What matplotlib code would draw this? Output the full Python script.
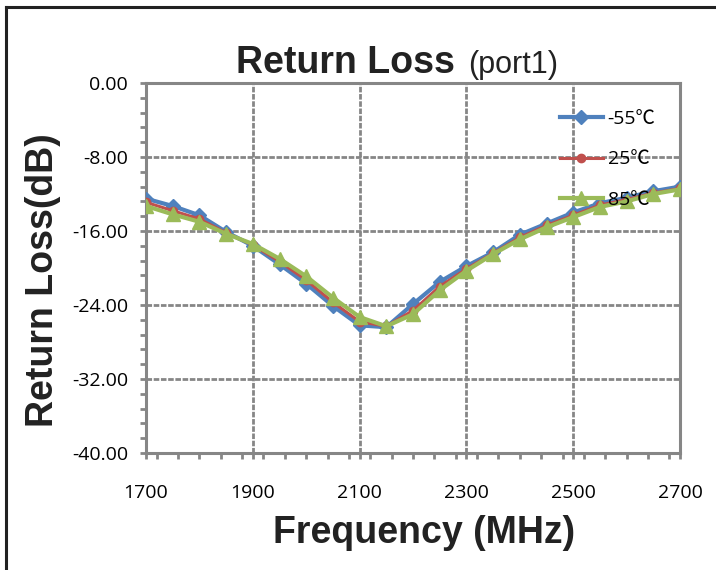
import numpy as np
import matplotlib.pyplot as plt
from matplotlib.ticker import MultipleLocator

# data
freq = [1700, 1750, 1800, 1850, 1900, 1950, 2000, 2050, 2100, 2150, 2200,
        2250, 2300, 2350, 2400, 2450, 2500, 2550, 2600, 2650, 2700]
rl_m55 = [-12.5, -13.3, -14.3, -16.1, -17.6, -19.6, -21.7, -24.1, -26.2, -26.4, -23.9,
          -21.5, -19.8, -18.3, -16.4, -15.2, -14.0, -13.0, -12.4, -11.7, -11.2]
rl_25 = [-12.9, -13.8, -14.7, -16.2, -17.5, -19.3, -21.3, -23.7, -25.8, -26.3, -24.6,
         -22.0, -20.1, -18.4, -16.7, -15.4, -14.3, -13.2, -12.6, -11.9, -11.4]
rl_85 = [-13.3, -14.2, -15.0, -16.3, -17.4, -19.0, -20.9, -23.2, -25.3, -26.3, -25.0,
         -22.4, -20.3, -18.5, -16.9, -15.6, -14.5, -13.4, -12.8, -12.0, -11.5]
labels = ['-55\u2103', '25\u2103', '85\u2103']
yticks = [0, -8, -16, -24, -32, -40]
xticks = [1700, 1900, 2100, 2300, 2500, 2700]

W, H = 716, 570
fig = plt.figure(figsize=(W/100, H/100), dpi=100)
ax = fig.add_axes([146/W, 1-453/H, (680-146)/W, (453-83)/H])

# outer frame (left and top visible)
fig.add_artist(plt.Line2D([6/W, 6/W], [0, 1-7/H], color='#222222', lw=2.2))
fig.add_artist(plt.Line2D([6/W, 1], [1-7/H, 1-7/H], color='#222222', lw=2.2))

grey = '#868686'
ax.plot(freq, rl_m55, color='#4F81BD', lw=3, marker='D', ms=7, label=labels[0], zorder=3)
ax.plot(freq, rl_25, color='#C0504D', lw=2.2, marker='o', ms=6, label=labels[1], zorder=4)
ax.plot(freq, rl_85, color='#9BBB59', lw=3, marker='^', ms=10.5, label=labels[2], zorder=5)

ax.set_xlim(1700, 2700)
ax.set_ylim(-40, 0)
ax.set_xticks(xticks)
ax.set_yticks(yticks)
ax.set_yticklabels(['%.2f' % v for v in yticks])
ax.xaxis.set_minor_locator(MultipleLocator(40))
ax.yaxis.set_minor_locator(MultipleLocator(1.6))
ax.grid(True, which='major', color=grey, lw=2, linestyle=(0, (2, 0.6)))
for s in ax.spines.values():
    s.set_color(grey)
    s.set_linewidth(2.2)
ax.tick_params(which='both', direction='out', color=grey, width=2, length=4,
               top=False, right=False)
ax.tick_params(axis='y', pad=9)
ax.tick_params(axis='x', pad=18)
for lab in ax.get_xticklabels() + ax.get_yticklabels():
    lab.set_fontfamily('Open Sans')
    lab.set_fontsize(14)

fig.text(424/W, 1-543/H, 'Frequency (MHz)', fontfamily='Liberation Sans',
         fontweight='bold', fontsize=27, ha='center', va='baseline', color='#222222')
fig.text(53/W, 1-427/H, 'Return Loss(dB)', fontfamily='Liberation Sans',
         fontweight='bold', fontsize=27, rotation=90, rotation_mode='anchor',
         ha='left', va='baseline', color='#222222')

fig.text(455/W, 1-73/H, 'Return Loss', fontfamily='Liberation Sans', fontweight='bold',
         fontsize=27, ha='right', va='baseline', color='#222222')
fig.text(468/W, 1-73/H, '(port1)', fontfamily='Liberation Sans',
         fontsize=22, ha='left', va='baseline', color='#222222')

leg = ax.legend(loc='upper left', bbox_to_anchor=((560-146)/534, (453-110)/370),
                frameon=False, borderpad=0, borderaxespad=0,
                prop={'family': ['Open Sans', 'Noto Sans CJK SC'], 'size': 14},
                labelspacing=1.15, handlelength=2.2, handletextpad=0.25)

fig.savefig('out.png', dpi=100)
